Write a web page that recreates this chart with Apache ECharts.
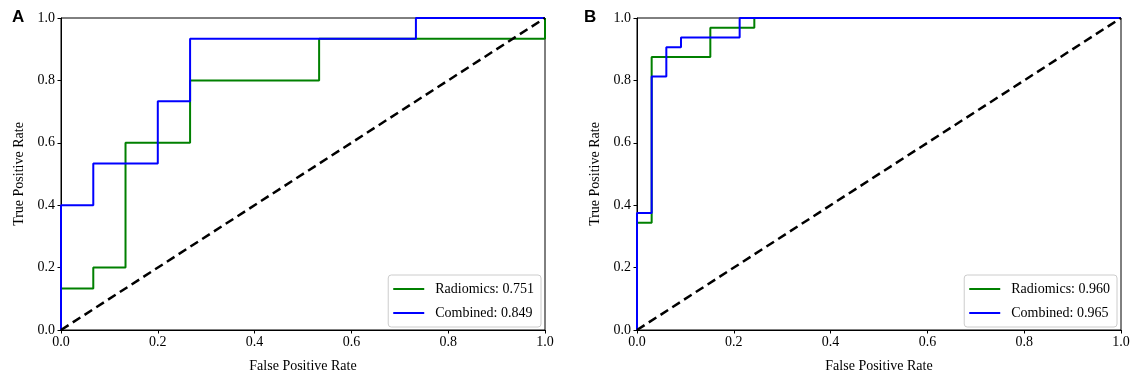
<!DOCTYPE html>
<html><head><meta charset="utf-8">
<script src="https://cdn.jsdelivr.net/npm/echarts@6/dist/echarts.min.js"></script>
<style>html,body{margin:0;padding:0;background:#fff}#c{width:1134px;height:378px}</style>
</head><body><div id="c"></div>
<script>
// Panel A
const aRadFpr = [0, 0, 0.0667, 0.0667, 0.1333, 0.1333, 0.2667, 0.2667, 0.5333, 0.5333, 1, 1];
const aRadTpr = [0, 0.1333, 0.1333, 0.2, 0.2, 0.6, 0.6, 0.8, 0.8, 0.9333, 0.9333, 1];
const aComFpr = [0, 0, 0.0667, 0.0667, 0.2, 0.2, 0.2667, 0.2667, 0.7333, 0.7333, 1];
const aComTpr = [0, 0.4, 0.4, 0.5333, 0.5333, 0.7333, 0.7333, 0.9333, 0.9333, 1, 1];
// Panel B
const bRadFpr = [0, 0, 0.0303, 0.0303, 0.1515, 0.1515, 0.2424, 0.2424, 1];
const bRadTpr = [0, 0.3438, 0.3438, 0.875, 0.875, 0.9688, 0.9688, 1, 1];
const bComFpr = [0, 0, 0.0303, 0.0303, 0.0606, 0.0606, 0.0909, 0.0909, 0.2121, 0.2121, 1];
const bComTpr = [0, 0.375, 0.375, 0.8125, 0.8125, 0.9063, 0.9063, 0.9375, 0.9375, 1, 1];
const diag = [[0, 0], [1, 1]];
const names = ['Radiomics: 0.751', 'Combined: 0.849', 'Radiomics: 0.960', 'Combined: 0.965'];
const panelLabels = ['A', 'B'];
const ticks = [0, 0.2, 0.4, 0.6, 0.8, 1.0];

function pts(xs, ys) { return xs.map((x, i) => [x, ys[i]]); }
const font = 'Liberation Serif';
function axis(name, gi, isY) {
  return {
    type: 'value', gridIndex: gi, min: 0, max: 1, interval: 0.2,
    name: name, nameLocation: 'middle', nameGap: isY ? 35 : 29,
    nameTextStyle: { fontFamily: font, fontSize: 14, color: '#000' },
    axisLine: { show: true, onZero: false, lineStyle: { color: '#000', width: 1 } },
    axisTick: { show: true, inside: false, length: 3.5, lineStyle: { color: '#000' } },
    axisLabel: { fontFamily: font, fontSize: 14, color: '#000', margin: isY ? 6 : 5,
      formatter: v => v.toFixed(1) },
    splitLine: { show: false }
  };
}
const grids = [
  { left: 61, top: 18, width: 484, height: 314, show: true, borderColor: '#000', borderWidth: 1, containLabel: false },
  { left: 637, top: 18, width: 484, height: 314, show: true, borderColor: '#000', borderWidth: 1, containLabel: false }
];
function line(name, data, color, gi) {
  return { name, type: 'line', xAxisIndex: gi, yAxisIndex: gi, data, symbol: 'none',
    lineStyle: { color, width: 2 }, itemStyle: { color }, animation: false, z: 3 };
}
function diagSeries(gi) {
  return { type: 'line', xAxisIndex: gi, yAxisIndex: gi, data: diag, symbol: 'none',
    lineStyle: { color: '#000', width: 2.5, type: [9, 5] }, animation: false, z: 4, silent: true };
}
function legend(gi, data, right) {
  return {
    data, orient: 'vertical', right, bottom: 51, icon: 'rect', itemWidth: 31, itemHeight: 2,
    itemGap: 10, padding: [7, 7, 7, 5],
    textStyle: { fontFamily: font, fontSize: 14, color: '#000', padding: [0, 0, 0, 6] },
    backgroundColor: 'rgba(255,255,255,0.8)', borderColor: '#ccc', borderWidth: 1, borderRadius: 3
  };
}
const option = {
  animation: false,
  grid: grids,
  xAxis: [axis('False Positive Rate', 0, false), axis('False Positive Rate', 1, false)],
  yAxis: [axis('True Positive Rate', 0, true), axis('True Positive Rate', 1, true)],
  legend: [legend(0, [names[0], names[1]], 1134 - 541), legend(1, [names[2], names[3]], 1134 - 1117)],
  graphic: [
    { type: 'text', left: 12, top: 9, style: { text: panelLabels[0], font: 'bold 17px Liberation Sans', fill: '#000' } },
    { type: 'text', left: 584, top: 9, style: { text: panelLabels[1], font: 'bold 17px Liberation Sans', fill: '#000' } }
  ],
  series: [
    line(names[0], pts(aRadFpr, aRadTpr), '#008000', 0),
    line(names[1], pts(aComFpr, aComTpr), '#0000ff', 0),
    diagSeries(0),
    line(names[2], pts(bRadFpr, bRadTpr), '#008000', 1),
    line(names[3], pts(bComFpr, bComTpr), '#0000ff', 1),
    diagSeries(1)
  ]
};
const chart = echarts.init(document.getElementById('c'), null, { renderer: 'canvas' });
chart.setOption(option);
</script></body></html>
